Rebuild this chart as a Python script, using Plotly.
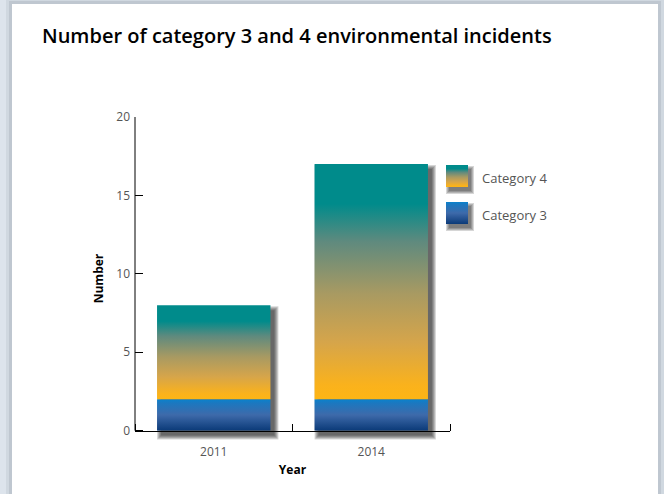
import plotly.graph_objects as go

# data
years = ["2011", "2014"]
cat3 = [2, 2]
cat4 = [6, 15]

cat4_scale = [[0, "#fdb515"], [0.06, "#fab21c"], [0.24, "#d6a54a"], [0.45, "#a89a62"],
              [0.67, "#5f8a7e"], [0.83, "#008b8b"], [1, "#008b8b"]]
cat3_scale = [[0, "#0b3a78"], [0.5, "#3e6aaa"], [0.88, "#1b78c0"], [1, "#0a82cc"]]

W, H = 664, 494
L, R, T, B = 135, 30, 117, 54
PLOT_R = 450          # right end of the x axis, px
YMIN, YMAX = -0.6, 20
BAR_W = 0.72
px_x = 2.0 / (PLOT_R - L)
px_y = (YMAX - YMIN) / (H - T - B)


def rect(i, y0, y1, pad=0, dx=0, dy=0):
    x0 = i - BAR_W / 2 + (dx - pad) * px_x
    x1 = i + BAR_W / 2 + (dx + pad) * px_x
    b = y0 - (dy + pad) * px_y
    t = y1 - (dy - pad) * px_y
    return [x0, x1, x1, x0, x0], [b, b, t, t, b]


def xp(px):
    return (px - L) / (W - L - R)


def yp(py):
    return (H - B - py) / (H - T - B)


fig = go.Figure()

# soft drop shadows under the stacks
for i in range(len(years)):
    total = cat3[i] + cat4[i]
    for pad in [4, 3, 2, 1, 0]:
        xs, ys = rect(i, 0, total, pad=pad, dx=4, dy=5)
        fig.add_trace(go.Scatter(x=xs, y=ys, mode="none", fill="toself",
                                 fillcolor="rgba(0,0,0,0.16)", showlegend=False,
                                 hoverinfo="skip"))

for i, yr in enumerate(years):
    xs, ys = rect(i, 0, cat3[i])
    fig.add_trace(go.Scatter(x=xs, y=ys, mode="none", fill="toself", name="Category 3",
                             showlegend=False,
                             fillgradient=dict(type="vertical", colorscale=cat3_scale)))
    xs, ys = rect(i, cat3[i], cat3[i] + cat4[i])
    fig.add_trace(go.Scatter(x=xs, y=ys, mode="none", fill="toself", name="Category 4",
                             showlegend=False,
                             fillgradient=dict(type="vertical", colorscale=cat4_scale)))

# legend drawn on its own little axes (pixel units) so the swatches keep the gradient
legend_items = [("Category 4", cat4_scale, 165), ("Category 3", cat3_scale, 202)]
annotations = []
for name, scale, top in legend_items:
    for pad in [3, 2, 1, 0]:
        x0, x1 = 446 + 3 - pad, 468 + 3 + pad
        y0, y1 = top + 4 - pad, top + 26 + pad
        fig.add_trace(go.Scatter(x=[x0, x1, x1, x0, x0], y=[y0, y0, y1, y1, y0],
                                 xaxis="x2", yaxis="y2", mode="none", fill="toself",
                                 fillcolor="rgba(0,0,0,0.16)", showlegend=False, hoverinfo="skip"))
    fig.add_trace(go.Scatter(x=[446, 468, 468, 446, 446], y=[top, top, top + 22, top + 22, top],
                             xaxis="x2", yaxis="y2", mode="none", fill="toself", name=name,
                             showlegend=False,
                             fillgradient=dict(type="vertical", colorscale=scale)))
    annotations.append(dict(x=480, y=top + 13, xref="x2", yref="y2", text=name,
                            showarrow=False, xanchor="left", yanchor="middle",
                            font=dict(family="Open Sans", size=13, color="#555")))

shapes = [
    dict(type="rect", xref="paper", yref="paper", x0=xp(6), x1=xp(664), y0=yp(-2), y1=yp(500),
         fillcolor="#d0d8e0", line_width=0, layer="below"),
    dict(type="rect", xref="paper", yref="paper", x0=xp(9), x1=xp(661), y0=yp(1), y1=yp(500),
         fillcolor="#bfc7d0", line_width=0, layer="below"),
    dict(type="rect", xref="paper", yref="paper", x0=xp(12), x1=xp(658), y0=yp(4), y1=yp(500),
         fillcolor="white", line_width=0, layer="below"),
    dict(type="line", xref="paper", yref="y", x0=0, x1=0, y0=0, y1=20,
         line=dict(color="black", width=1)),
]

fig.update_layout(
    width=W, height=H,
    margin=dict(l=L, r=R, t=T, b=B),
    paper_bgcolor="#dde4ec",
    plot_bgcolor="rgba(0,0,0,0)",
    shapes=shapes,
    annotations=annotations,
    showlegend=False,
    title=dict(text="Number of category 3 and 4 environmental incidents",
               x=42 / W, xanchor="left", y=1 - 36 / H, yanchor="middle",
               font=dict(family="Open Sans", size=20, weight=600, color="black")),
    xaxis=dict(domain=[0, xp(PLOT_R)], range=[-0.5, 1.5], tickvals=[0, 1], ticktext=years,
               ticks="", showgrid=False, zeroline=False, showline=True, linecolor="black",
               anchor="free", position=(0 - YMIN) / (YMAX - YMIN), ticklabelstandoff=10,
               minor=dict(tick0=0.5, dtick=1, ticks="inside", ticklen=7, tickcolor="black"),
               tickfont=dict(family="Open Sans", size=12, color="#555"),
               title=dict(text="<b>Year</b>", standoff=6,
                          font=dict(family="Open Sans", size=12, color="black"))),
    yaxis=dict(range=[YMIN, YMAX], tickvals=[0, 5, 10, 15, 20], ticks="inside", ticklen=8,
               tickcolor="black", showgrid=False, zeroline=False, showline=False,
               ticklabelstandoff=4,
               tickfont=dict(family="Open Sans", size=12, color="#555"),
               title=dict(text="<b>Number</b>", standoff=10,
                          font=dict(family="Open Sans", size=12, color="black"))),
    xaxis2=dict(domain=[xp(440), xp(600)], range=[440, 600], visible=False, anchor="y2"),
    yaxis2=dict(domain=[yp(240), yp(155)], range=[240, 155], visible=False, anchor="x2"),
)

fig.write_html("out.html", config={"displayModeBar": False},
               post_script="document.body.style.margin='0px';")
